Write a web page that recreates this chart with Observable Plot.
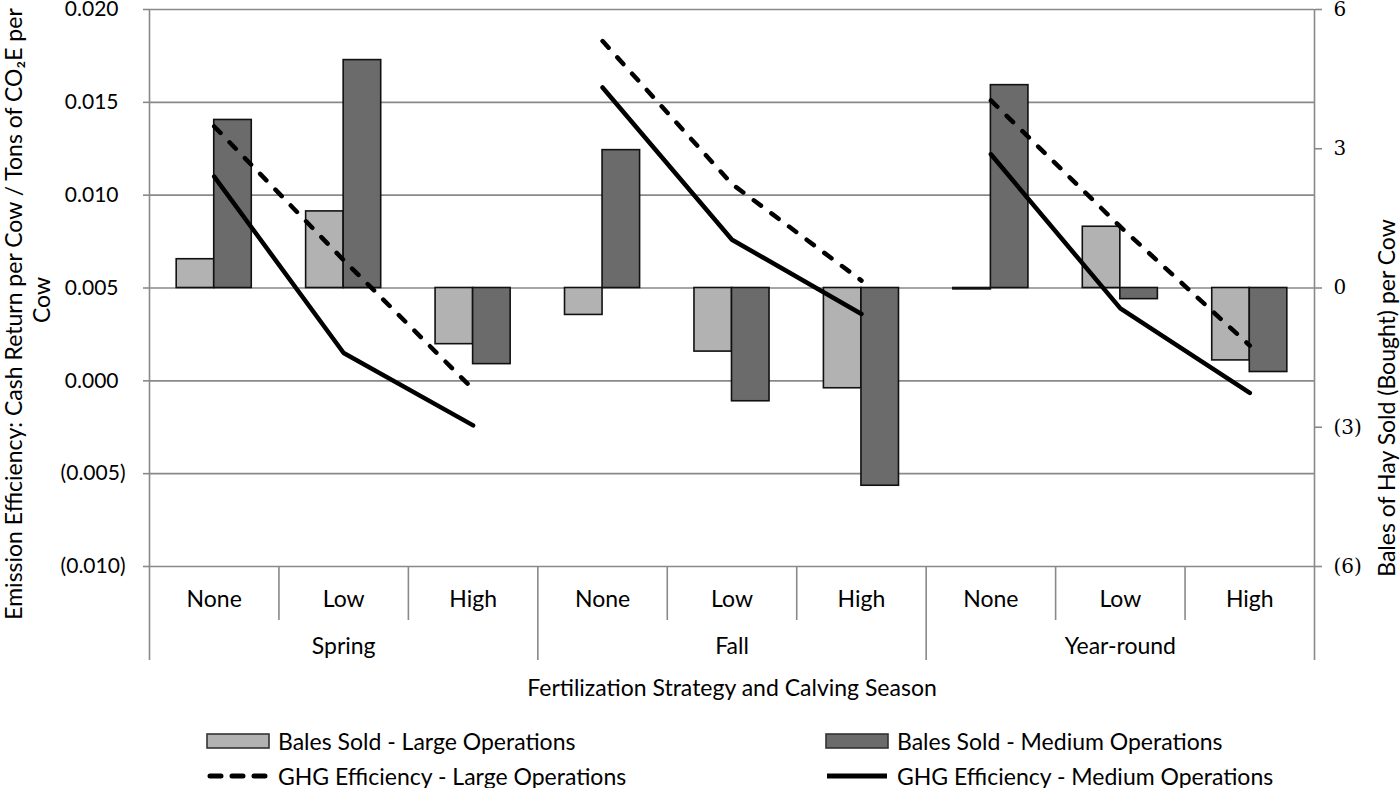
<!DOCTYPE html>
<html>
<head>
<meta charset="utf-8">
<script src="https://cdn.jsdelivr.net/npm/d3@7"></script>
<script src="https://cdn.jsdelivr.net/npm/@observablehq/plot@0.6"></script>
<style>
  html, body { margin: 0; padding: 0; background: #fff; }
  #wrap { width: 1400px; font-family: Lato, "Noto Sans", sans-serif; }
  .leg { position: relative; width: 1400px; height: 73px; font-size: 23px; color: #000; }
  .item { position: absolute; display: flex; align-items: center; height: 24px; white-space: nowrap; }
  .item svg { margin-right: 8px; }
</style>
</head>
<body>
<div id="wrap"></div>
<script>
// ---- data ----
const groups = ["Spring", "Fall", "Year-round"];
const strategies = ["None", "Low", "High"];
// Bales of hay sold (bought) per cow (right axis)
const balesLarge  = [0.62, 1.65, -1.21, -0.58, -1.37, -2.16, -0.03, 1.32, -1.56];
const balesMedium = [3.62, 4.91, -1.64, 2.97, -2.44, -4.26, 4.37, -0.24, -1.81];
// GHG efficiency (left axis)
const ghgLarge  = [0.0137, 0.0065, -0.00045, 0.0183, 0.0106, 0.0054, 0.0151, 0.0083, 0.0019];
const ghgMedium = [0.0110, 0.0015, -0.0024, 0.0158, 0.0076, 0.0036, 0.0122, 0.0039, -0.00065];
const leftTicks = [0.020, 0.015, 0.010, 0.005, 0.000, -0.005, -0.010];
const rightTicks = [6, 3, 0, -3, -6];

// right-axis (bales) -> left-axis units: 6 -> 0.020, 0 -> 0.005, -6 -> -0.010
const toV = b => 0.005 + b * 0.0025;
const fromV = v => Math.round((v - 0.005) / 0.0025);

const n = groups.length * strategies.length;
const cats = d3.range(n).map(i => ({i, g: Math.floor(i / 3), s: i % 3}));

const barsL = cats.map(c => ({x1: c.i + 0.21, x2: c.i + 0.5, y: toV(balesLarge[c.i])}));
const barsM = cats.map(c => ({x1: c.i + 0.5, x2: c.i + 0.79, y: toV(balesMedium[c.i])}));
const linesL = cats.map(c => ({x: c.i + 0.5, y: ghgLarge[c.i], g: c.g}));
const linesM = cats.map(c => ({x: c.i + 0.5, y: ghgMedium[c.i], g: c.g}));

const gray = "#898989";
const fmtLeft = d => d < 0 ? `(${(-d).toFixed(3)})` : d.toFixed(3);
const fmtRight = v => { const b = fromV(v); return b < 0 ? `(${-b})` : `${b}`; };
const FS = 23;

const chart = Plot.plot({
  width: 1400,
  height: 715,
  marginLeft: 149,
  marginRight: 86,
  marginTop: 9,
  marginBottom: 149,
  x: {type: "linear", domain: [0, n], label: null},
  y: {domain: [-0.010, 0.020], label: null},
  style: {fontFamily: "Lato, 'Noto Sans', sans-serif", fontSize: FS + "px", color: "#000", background: "#fff", overflow: "visible"},
  marks: [
    Plot.ruleY(leftTicks, {stroke: gray, strokeWidth: 1.6}),
    Plot.ruleX([0, n], {stroke: gray, strokeWidth: 1.6}),
    // left axis
    Plot.axisY({anchor: "left", ticks: leftTicks.filter(d => d >= 0), tickSize: 6, tickPadding: 25,
      tickFormat: fmtLeft, stroke: gray, strokeWidth: 1.6, fill: "#000", fontSize: 21, label: null}),
    Plot.axisY({anchor: "left", ticks: leftTicks.filter(d => d < 0), tickSize: 6, tickPadding: 18,
      tickFormat: fmtLeft, stroke: gray, strokeWidth: 1.6, fill: "#000", fontSize: 21, label: null}),
    // right axis
    Plot.axisY({anchor: "right", ticks: rightTicks.map(toV), tickSize: 7, tickPadding: 12,
      tickFormat: fmtRight, stroke: gray, strokeWidth: 1.6, fill: "#000", fontSize: 20,
      fontFamily: "'DejaVu Serif', serif", label: null}),
    // category axis separators
    Plot.axisX({anchor: "bottom", ticks: cats.filter(c => c.s !== 0).map(c => c.i), tickSize: 54,
      tickFormat: () => "", stroke: gray, strokeWidth: 1.6, label: null}),
    Plot.axisX({anchor: "bottom", ticks: d3.range(0, n + 1, 3), tickSize: 94,
      tickFormat: () => "", stroke: gray, strokeWidth: 1.6, label: null}),
    Plot.axisX({anchor: "bottom", ticks: cats.map(c => c.i + 0.5), tickSize: 0, tickPadding: 24,
      tickFormat: d => strategies[Math.floor(d) % 3], fill: "#000", fontSize: FS, label: null}),
    Plot.axisX({anchor: "bottom", ticks: groups.map((g, k) => k * 3 + 1.5), tickSize: 0, tickPadding: 71,
      tickFormat: d => groups[Math.floor(d / 3)], fill: "#000", fontSize: FS, label: null}),
    // bars
    Plot.rectY(barsL, {x1: "x1", x2: "x2", y1: 0.005, y2: "y", fill: "#b2b2b2", stroke: "#111", strokeWidth: 1.6}),
    Plot.rectY(barsM, {x1: "x1", x2: "x2", y1: 0.005, y2: "y", fill: "#6b6b6b", stroke: "#111", strokeWidth: 1.6}),
    // lines
    Plot.line(linesL, {x: "x", y: "y", z: "g", stroke: "#000", strokeWidth: 4.5,
      strokeDasharray: "9,13", strokeLinecap: "round"}),
    Plot.line(linesM, {x: "x", y: "y", z: "g", stroke: "#000", strokeWidth: 4.5, strokeLinecap: "round"}),
    // titles
    Plot.text(["Fertilization Strategy and Calving Season"], {frameAnchor: "bottom", dy: 129, fontSize: FS, fill: "#000", textAnchor: "middle"}),
    Plot.text(["Emission Efficiency: Cash Return per Cow / Tons of CO₂E per"], {frameAnchor: "left", textAnchor: "middle", dx: -135, dy: 26, rotate: -90, fontSize: FS, fill: "#000"}),
    Plot.text(["Cow"], {frameAnchor: "left", textAnchor: "middle", dx: -107, dy: 12, rotate: -90, fontSize: FS, fill: "#000"}),
    Plot.text(["Bales of Hay Sold (Bought) per Cow"], {frameAnchor: "right", textAnchor: "middle", dx: 73, dy: 110, rotate: -90, fontSize: FS, fill: "#000"})
  ]
});

const wrap = document.getElementById("wrap");
wrap.appendChild(chart);

// ---- legend ----
const legendItems = [
  {label: "Bales Sold - Large Operations", kind: "rect", fill: "#b2b2b2", left: 206, top: 14},
  {label: "Bales Sold - Medium Operations", kind: "rect", fill: "#6b6b6b", left: 825, top: 14},
  {label: "GHG Efficiency - Large Operations", kind: "dash", left: 206, top: 49},
  {label: "GHG Efficiency - Medium Operations", kind: "solid", left: 825, top: 49}
];
const leg = document.createElement("div");
leg.className = "leg";
for (const it of legendItems) {
  const d = document.createElement("div");
  d.className = "item";
  d.style.left = it.left + "px";
  d.style.top = it.top + "px";
  let sw;
  if (it.kind === "rect") {
    sw = `<svg width="64" height="24"><rect x="1" y="5" width="62" height="14" fill="${it.fill}" stroke="#333" stroke-width="1.6"/></svg>`;
  } else if (it.kind === "dash") {
    sw = `<svg width="64" height="24"><line x1="4" y1="12" x2="62" y2="12" stroke="#000" stroke-width="5" stroke-linecap="round" stroke-dasharray="11,11"/></svg>`;
  } else {
    sw = `<svg width="64" height="24"><line x1="2" y1="12" x2="62" y2="12" stroke="#000" stroke-width="5"/></svg>`;
  }
  d.innerHTML = sw + `<span>${it.label}</span>`;
  leg.appendChild(d);
}
wrap.appendChild(leg);
</script>
</body>
</html>
